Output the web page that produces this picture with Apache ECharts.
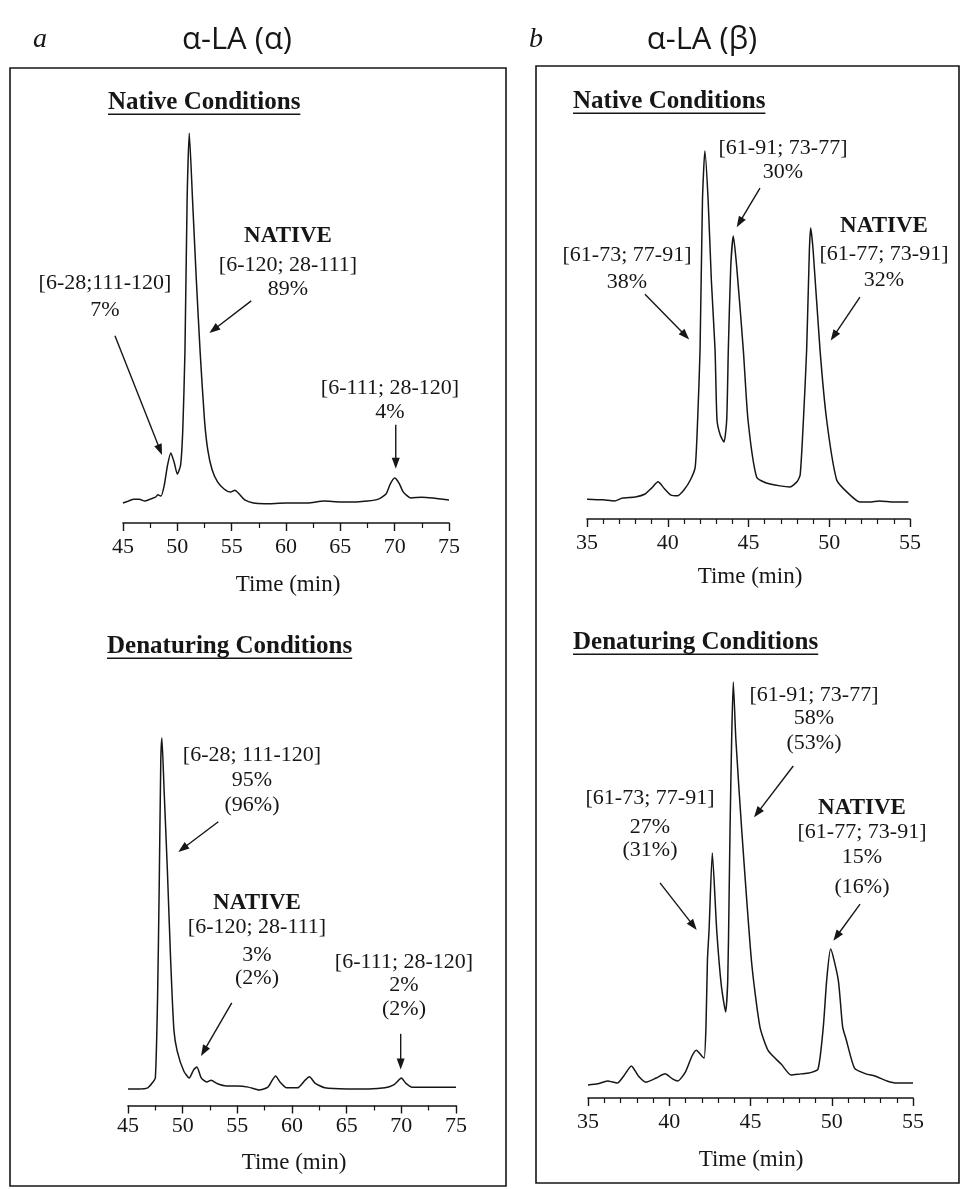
<!DOCTYPE html>
<html><head><meta charset="utf-8">
<script src="https://cdn.jsdelivr.net/npm/echarts@6/dist/echarts.min.js"></script>
<style>html,body{margin:0;padding:0;background:#fff}#c{width:963px;height:1189px}</style>
</head><body><div id="c"></div>
<script>
// ---------- DATA ----------
// Panel a, native conditions
const timeA1 = [45.0,45.5,46.0,46.5,47.0,47.5,48.0,48.2,48.5,48.8,49.1,49.4,49.7,50.0,50.3,50.5,50.7,50.9,51.1,51.4,51.75,52.1,52.5,52.8,53.2,53.7,54.3,54.9,55.3,55.7,56.2,57.0,58.0,60.0,62.0,63.5,65.0,66.5,67.5,68.5,69.2,69.6,70.0,70.4,70.8,71.5,72.5,73.5,75.0];
const signalA1 = [5.1,5.6,6.1,6.1,5.6,6.1,6.6,7.2,6.9,9.7,14.8,17.9,15.6,12.5,14.8,23.8,43.7,82.6,99.7,82.6,62.1,43.7,26.3,18.7,13.6,10.5,8.7,7.9,8.4,7.4,5.9,5.1,4.9,5.1,5.1,5.6,5.4,5.4,5.6,6.1,7.4,10.0,11.5,10.2,7.9,6.4,6.6,6.4,5.9];
// Panel a, denaturing conditions
const timeA2 = [45.0,46.0,46.8,47.2,47.5,47.7,47.85,48.0,48.1,48.3,48.6,48.9,49.2,49.5,50.1,50.6,51.0,51.3,51.7,52.2,52.6,53.2,54.0,55.0,56.0,57.0,57.8,58.2,58.5,58.9,59.5,60.5,61.2,61.6,62.1,63.0,65.0,67.0,68.5,69.3,69.7,70.0,70.4,71.0,72.5,75.0];
const signalA2 = [4.5,4.5,4.8,6.1,7.5,28.7,58.6,94.0,100,85.9,64.1,39.6,20.5,14.8,9.4,7.5,9.7,10.5,7.5,6.4,6.9,5.9,5.3,5.3,5.0,4.2,5.0,6.9,8.0,6.4,4.8,4.8,6.9,7.8,6.1,4.8,4.5,4.5,4.8,5.6,6.7,7.5,6.1,5.0,5.0,5.0];
// Panel b, native conditions
const timeB1 = [35.0,36.0,36.7,37.2,38.0,38.6,39.0,39.4,39.8,40.2,40.6,41.0,41.4,41.7,41.85,42.0,42.15,42.3,42.5,42.7,42.93,43.05,43.25,43.48,43.65,43.75,43.9,44.06,44.27,44.68,44.97,45.5,46.1,46.95,47.57,48.0,48.2,48.4,48.6,48.77,48.85,49.0,49.43,49.84,50.46,51.1,51.9,52.5,53.1,54.0,54.9];
const signalB1 = [5.4,5.2,4.9,5.7,6.0,6.8,8.4,10.1,8.2,6.5,6.3,7.9,10.6,14.1,26.9,45.9,86.7,100,86.7,64.9,45.9,26.9,22.8,20.9,26.9,45.9,68.5,76.9,68.5,45.9,26.9,11.4,9.8,9.0,8.7,10.1,12.0,26.9,45.9,73.1,79.1,73.1,45.9,26.9,10.6,7.3,4.6,4.6,4.9,4.6,4.6];
// Panel b, denaturing conditions
const timeB2 = [35.0,35.6,36.2,36.8,37.2,37.67,38.1,38.56,39.2,39.74,40.2,40.53,41.0,41.4,41.67,42.0,42.15,42.26,42.35,42.45,42.65,42.92,43.2,43.47,43.6,43.68,43.74,43.84,43.94,44.1,44.46,45.07,45.58,46.1,46.9,47.5,48.1,48.6,49.15,49.48,49.69,49.93,50.4,50.67,50.9,51.4,52.1,52.65,53.4,54.0,55.0];
const signalB2 = [3.1,3.4,4.1,3.6,5.3,7.7,5.3,3.8,4.8,5.8,4.6,4.1,6.3,10.1,11.5,10.1,9.6,17.1,33.2,40.4,58.9,40.4,27.2,20.7,28.4,47.6,64.4,86.1,100,86.1,64.4,32.5,17.1,11.3,8.1,5.5,5.8,6.0,6.9,17.1,28.4,35.8,28.4,17.1,13.9,7.2,5.8,5.3,4.1,3.6,3.6];

const ticksA = [45,50,55,60,65,70,75];
const ticksB = [35,40,45,50,55];
const panelLetters = ['a','b'];
const panelTitles = ['α-LA (α)','α-LA (β)'];
const conditionTitles = ['Native Conditions','Denaturing Conditions'];
const axisTitle = 'Time (min)';

const labelsA1 = [['NATIVE','[6-120; 28-111]','89%'],['[6-28;111-120]','7%'],['[6-111; 28-120]','4%']];
const labelsA2 = [['[6-28; 111-120]','95%','(96%)'],['NATIVE','[6-120; 28-111]','3%','(2%)'],['[6-111; 28-120]','2%','(2%)']];
const labelsB1 = [['[61-91; 73-77]','30%'],['NATIVE','[61-77; 73-91]','32%'],['[61-73; 77-91]','38%']];
const labelsB2 = [['[61-91; 73-77]','58%','(53%)'],['NATIVE','[61-77; 73-91]','15%','(16%)'],['[61-73; 77-91]','27%','(31%)']];

// ---------- CHART ----------
const SERIF = '"Liberation Serif","Times New Roman",serif';
const INK = '#161616';
const chart = echarts.init(document.getElementById('c'), null, {renderer:'canvas'});

const zip = (t, s) => t.map((x, i) => [x, s[i]]);
const gridsPx = [
  {left:123, top:132, width:326, height:391},
  {left:128, top:738, width:328, height:367.5},
  {left:587, top:151, width:323, height:368},
  {left:588, top:682, width:325, height:416}
];
const labelMargins = [13, 10, 13, 13];
const axisTicks = [ticksA, ticksA, ticksB, ticksB];
const minorSplits = [2, 2, 5, 5];
const seriesData = [zip(timeA1, signalA1), zip(timeA2, signalA2), zip(timeB1, signalB1), zip(timeB2, signalB2)];

const option = {
  animation:false,
  backgroundColor:'#fff',
  grid: gridsPx.map(g => Object.assign({containLabel:false}, g)),
  xAxis: axisTicks.map((tk, i) => ({
    gridIndex:i, type:'value', min:tk[0], max:tk[tk.length-1], interval:tk[1]-tk[0],
    axisLine:{show:true, onZero:false, lineStyle:{color:INK, width:1.6}},
    axisTick:{show:true, length:8, lineStyle:{color:INK, width:1.4}},
    minorTick:{show:true, splitNumber:minorSplits[i], length:5, lineStyle:{color:INK, width:1.2}},
    splitLine:{show:false}, minorSplitLine:{show:false},
    axisLabel:{color:INK, fontFamily:SERIF, fontSize:22, margin:labelMargins[i]}
  })),
  yAxis: gridsPx.map((g, i) => ({gridIndex:i, type:'value', min:0, max:100, show:false})),
  series: seriesData.map((d, i) => ({
    type:'line', xAxisIndex:i, yAxisIndex:i, data:d, symbol:'none', showSymbol:false,
    smooth:0.2, clip:false, silent:true,
    lineStyle:{color:INK, width:1.5, join:'round'}
  }))
};
chart.setOption(option);

// ---------- ANNOTATIONS (layout) ----------
const measure = (() => { const c = document.createElement('canvas').getContext('2d'); return (txt, font) => { c.font = font; return c.measureText(txt).width; }; })();
const els = [];
function text(str, x, y, opt) {
  opt = opt || {};
  const size = opt.size || 22, weight = opt.bold ? 'bold ' : '', style = opt.italic ? 'italic ' : '';
  const fam = opt.family || SERIF;
  const font = style + weight + size + 'px ' + fam;
  els.push({type:'text', x:x, y:y, silent:true, style:{text:str, font:font, fill:INK, align:opt.align || 'center', verticalAlign:'middle'}});
  if (opt.underline) {
    const w = measure(str, font);
    const x0 = opt.align === 'left' ? x : x - w / 2;
    els.push({type:'line', silent:true, shape:{x1:x0, y1:y + size * 0.45, x2:x0 + w, y2:y + size * 0.45}, style:{stroke:INK, lineWidth:1.4}});
  }
}
function block(lines, cx, ys, boldFirst) {
  lines.forEach((l, i) => text(l, cx, ys[i], {size: (boldFirst && i === 0) ? 23 : 22, bold: boldFirst && i === 0}));
}
function arrow(gi, from, to) {
  const p1 = chart.convertToPixel({gridIndex:gi}, from);
  const p2 = chart.convertToPixel({gridIndex:gi}, to);
  const dx = p2[0] - p1[0], dy = p2[1] - p1[1], L = Math.hypot(dx, dy);
  const ux = dx / L, uy = dy / L, hl = 11, hw = 4;
  const bx = p2[0] - ux * hl, by = p2[1] - uy * hl;
  els.push({type:'line', silent:true, shape:{x1:p1[0], y1:p1[1], x2:bx + ux * 2, y2:by + uy * 2}, style:{stroke:INK, lineWidth:1.4}});
  els.push({type:'polygon', silent:true, shape:{points:[[p2[0], p2[1]], [bx - uy * hw, by + ux * hw], [bx + uy * hw, by - ux * hw]]}, style:{fill:INK}});
}

// frames
els.push({type:'rect', silent:true, shape:{x:10, y:68, width:496, height:1118}, style:{fill:'none', stroke:INK, lineWidth:1.6}});
els.push({type:'rect', silent:true, shape:{x:536, y:66, width:423, height:1117}, style:{fill:'none', stroke:INK, lineWidth:1.6}});

// panel letters and titles
text(panelLetters[0], 40, 40, {size:28, italic:true});
text(panelLetters[1], 536, 40, {size:28, italic:true});
text(panelTitles[0], 237, 40, {size:31, family:'"Open Sans","DejaVu Sans",sans-serif'});
text(panelTitles[1], 702, 40, {size:31, family:'"Open Sans","DejaVu Sans",sans-serif'});

// condition headers
text(conditionTitles[0], 108, 103, {size:25, bold:true, align:'left', underline:true});
text(conditionTitles[0], 573, 102, {size:25, bold:true, align:'left', underline:true});
text(conditionTitles[1], 107, 647, {size:25, bold:true, align:'left', underline:true});
text(conditionTitles[1], 573, 643, {size:25, bold:true, align:'left', underline:true});

// axis titles
text(axisTitle, 288, 585, {size:23});
text(axisTitle, 294, 1163, {size:23});
text(axisTitle, 750, 577, {size:23});
text(axisTitle, 751, 1160, {size:23});

// panel a - native
block(labelsA1[0], 288, [236, 265, 289], true);
block(labelsA1[1], 105, [283, 310], false);
block(labelsA1[2], 390, [388, 412], false);
arrow(0, [56.8, 56.8], [52.95, 48.6]);
arrow(0, [44.26, 47.9], [48.59, 17.4]);
arrow(0, [70.1, 25.1], [70.1, 13.9]);

// panel a - denaturing
block(labelsA2[0], 252, [755, 780, 805], false);
block(labelsA2[1], 257, [903, 927, 955, 978], true);
block(labelsA2[2], 404, [962, 985, 1009], false);
arrow(1, [53.26, 77.2], [49.6, 69.0]);
arrow(1, [54.49, 27.9], [51.68, 13.5]);
arrow(1, [69.94, 19.5], [69.94, 9.8]);

// panel b - native
block(labelsB1[0], 783, [148, 172], false);
block(labelsB1[1], 884, [226, 254, 280], true);
block(labelsB1[2], 627, [255, 282], false);
arrow(2, [45.71, 89.9], [44.27, 79.3]);
arrow(2, [51.9, 60.3], [50.09, 48.5]);
arrow(2, [38.59, 61.1], [41.33, 48.8]);

// panel b - denaturing
block(labelsB2[0], 814, [695, 718, 743], false);
block(labelsB2[1], 862, [808, 832, 857, 887], true);
block(labelsB2[2], 650, [798, 827, 850], false);
arrow(3, [47.63, 79.8], [45.22, 67.5]);
arrow(3, [51.74, 46.6], [50.1, 37.8]);
arrow(3, [39.43, 51.7], [41.69, 40.4]);

chart.setOption({graphic:{elements:els}});
</script></body></html>
